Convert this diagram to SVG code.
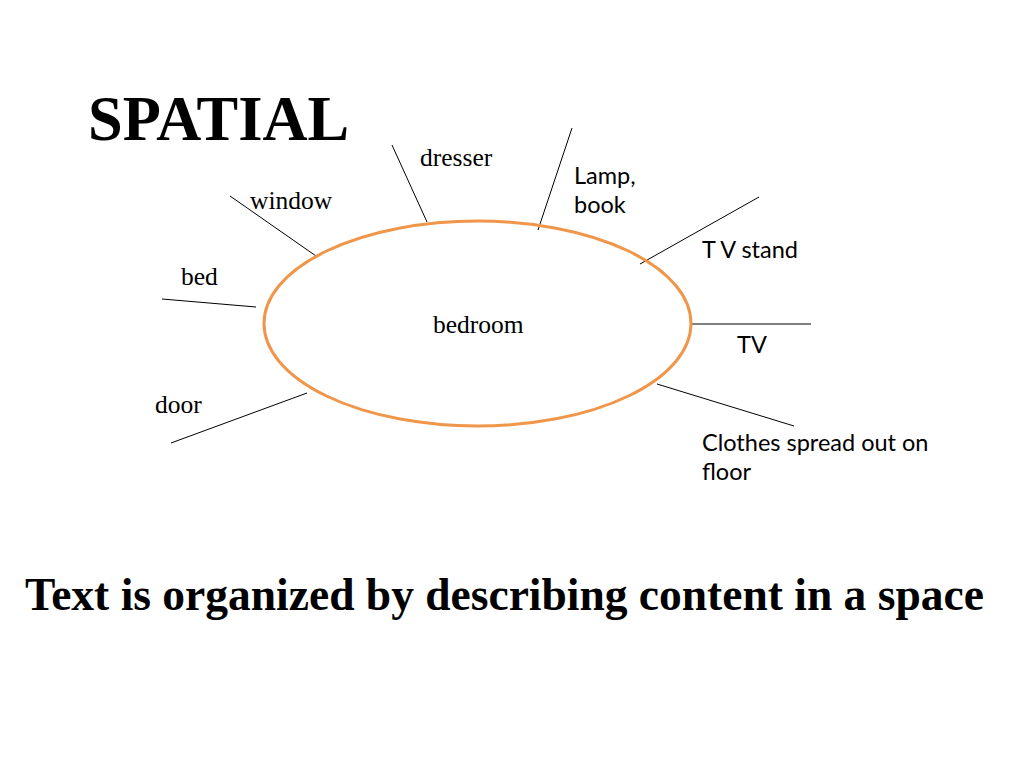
<svg xmlns="http://www.w3.org/2000/svg" width="1024" height="768" viewBox="0 0 1024 768">
<style>
.serif{font-family:"Liberation Serif","Times New Roman",serif;fill:#000}
.sans{font-family:Lato,"Open Sans",sans-serif;font-size:23.5px;fill:#000}
.lbl{font-size:25.5px}
.ln{stroke:#000;stroke-width:1;fill:none}
</style>
<rect width="1024" height="768" fill="#fff"/>
<text class="serif" x="88" y="140" font-size="62.4" font-weight="bold">SPATIAL</text>
<g id="connectors">
<line class="ln" x1="392" y1="145" x2="427" y2="222"/>
<line class="ln" x1="572" y1="128" x2="538" y2="230"/>
<line class="ln" x1="230" y1="196" x2="316" y2="256"/>
<line class="ln" x1="162" y1="299" x2="256" y2="307"/>
<line class="ln" x1="171" y1="443" x2="307" y2="393"/>
<line class="ln" x1="759" y1="197" x2="640" y2="264"/>
<line class="ln" x1="691" y1="324" x2="811" y2="324"/>
<line class="ln" x1="657" y1="384" x2="794" y2="426"/>
</g>
<g id="bedroom">
<ellipse cx="477.5" cy="323.5" rx="213.5" ry="102.5" fill="none" stroke="#F0964A" stroke-width="3"/>
<text class="serif lbl" x="433" y="333">bedroom</text>
</g>
<g id="dresser"><text class="serif lbl" x="420" y="166">dresser</text></g>
<g id="window"><text class="serif lbl" x="250" y="209">window</text></g>
<g id="bed"><text class="serif lbl" x="181" y="285">bed</text></g>
<g id="door"><text class="serif lbl" x="155" y="413">door</text></g>
<g id="lamp"><text class="sans" x="574" y="184">Lamp,</text><text class="sans" x="574" y="213">book</text></g>
<g id="tvstand"><text class="sans" x="702" y="258">T V stand</text></g>
<g id="tv"><text class="sans" x="737" y="353">TV</text></g>
<g id="clothes"><text class="sans" x="702" y="451">Clothes spread out on</text><text class="sans" x="702" y="480">floor</text></g>
<text class="serif" x="25" y="610" font-size="45.5" font-weight="bold">Text is organized by describing content in a space</text>
</svg>
